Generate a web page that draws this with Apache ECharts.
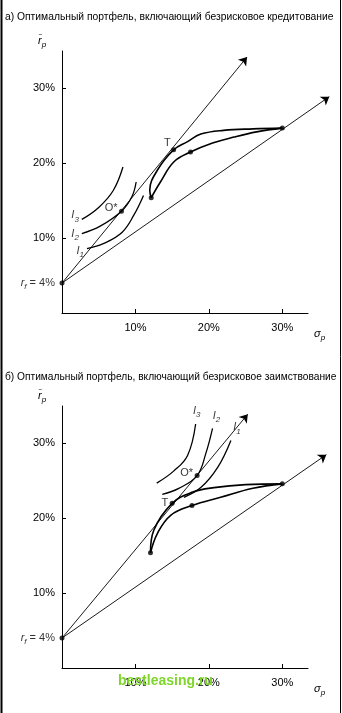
<!DOCTYPE html>
<html>
<head>
<meta charset="utf-8">
<script src="https://cdn.jsdelivr.net/npm/echarts@6/dist/echarts.min.js"></script>
<style>
html,body{margin:0;padding:0;background:#fff;}
#chart{width:342px;height:713px;}
</style>
</head>
<body>
<div id="chart"></div>
<script>
// ---------- DATA (sigma %, expected return %) ----------
const titleA = 'а) Оптимальный портфель, включающий безрисковое кредитование';
const titleB = 'б) Оптимальный портфель, включающий безрисковое заимствование';
const tickValues = [10, 20, 30];
const tickLabels = ['10%', '20%', '30%'];
const riskFree = [0, 4];

// panel a
const rayUpperA = [[0, 4], [25.2, 34.2]];
const rayLowerA = [[0, 4], [36.4, 28.9]];
const frontierUpperA = [[12.15, 15.4], [11.95, 16.4], [13.0, 19.1], [15.2, 21.8], [17.1, 22.9], [18.9, 23.9], [22.0, 24.4], [26.0, 24.6], [30, 24.7]];
const frontierLowerA = [[12.15, 15.4], [13.4, 17.5], [15.25, 20.2], [17.5, 21.5], [20.5, 22.7], [23.4, 23.5], [26.5, 24.2], [30, 24.7]];
const indiffI1A = [[3.4, 8.6], [5.7, 9.3], [8.2, 10.8], [9.8, 13.1], [11.1, 15.7]];
const indiffI2A = [[2.7, 10.6], [5.2, 11.6], [8.1, 13.6], [9.5, 15.5], [10.1, 17.5]];
const indiffI3A = [[2.7, 12.5], [5.0, 14.1], [7.0, 16.4], [8.3, 19.5]];
const pointT_A = [15.2, 21.8];
const pointO_A = [8.1, 13.6];
const pointLowA = [17.5, 21.5];
const pointStartA = [12.15, 15.4];
const pointEndA = [30, 24.7];

// panel b
const rayUpperB = [[0, 4], [25.3, 33.9]];
const rayLowerB = [[0, 4], [36.0, 28.5]];
const frontierUpperB = [[12.05, 15.4], [12.5, 18.4], [15.0, 22.0], [17.8, 23.5], [20.7, 24.1], [25.0, 24.5], [30, 24.6]];
const frontierLowerB = [[12.05, 15.4], [13.0, 18.0], [14.8, 20.4], [17.7, 21.7], [21.6, 22.8], [26.0, 24.0], [30, 24.6]];
const indiffI1B = [[16.6, 22.8], [18.9, 24.1], [21.2, 26.8], [23.0, 30.4]];
const indiffI2B = [[13.65, 23.2], [15.9, 24.0], [18.4, 25.7], [19.6, 28.7], [20.5, 32.0]];
const indiffI3B = [[12.9, 24.7], [15.2, 26.3], [17.1, 28.4], [18.2, 32.6]];
const pointT_B = [15.0, 22.0];
const pointO_B = [18.4, 25.7];
const pointLowB = [17.7, 21.7];
const pointStartB = [12.05, 15.4];
const pointEndB = [30, 24.6];

// ---------- CHART ----------
const FONT = '"Liberation Sans", Arial, sans-serif';
const chart = echarts.init(document.getElementById('chart'), null, {renderer: 'canvas'});

function tickFmt(v) {
  const i = tickValues.indexOf(v);
  return i >= 0 ? tickLabels[i] : '';
}
function xAxisDef(idx) {
  return {
    type: 'value', gridIndex: idx, min: 0, max: 33.5, interval: 10,
    axisLine: {show: true, onZero: false, lineStyle: {color: '#000', width: 1}},
    axisTick: {show: true, inside: true, length: 4, customValues: tickValues, lineStyle: {color: '#000'}},
    axisLabel: {customValues: tickValues, formatter: tickFmt, color: '#000', fontSize: 11, fontFamily: FONT, margin: 9},
    splitLine: {show: false}
  };
}
function yAxisDef(idx) {
  return {
    type: 'value', gridIndex: idx, min: 0, max: 35, interval: 10,
    axisLine: {show: true, onZero: false, lineStyle: {color: '#000', width: 1}},
    axisTick: {show: true, inside: true, length: 4, customValues: tickValues, lineStyle: {color: '#000'}},
    axisLabel: {customValues: tickValues, formatter: tickFmt, color: '#000', fontSize: 11, fontFamily: FONT, margin: 7},
    splitLine: {show: false}
  };
}

const subRich = {
  i: {fontSize: 11, fontStyle: 'italic', fontFamily: FONT, color: '#000', lineHeight: 16, verticalAlign: 'middle'},
  s: {fontSize: 8, fontStyle: 'italic', fontFamily: FONT, color: '#000', lineHeight: 8, verticalAlign: 'bottom'},
  n: {fontSize: 11, fontFamily: FONT, color: '#000', lineHeight: 16, verticalAlign: 'middle'}
};

function curve(data, xi, w) {
  return {
    type: 'line', xAxisIndex: xi, yAxisIndex: xi, data: data, smooth: 0.4,
    symbol: 'none', lineStyle: {color: '#000', width: w}, silent: true, z: 3
  };
}
function ray(coords, xi) {
  return {
    type: 'lines', coordinateSystem: 'cartesian2d', xAxisIndex: xi, yAxisIndex: xi,
    clip: false,
    symbol: ['none', 'arrow'], symbolSize: 8,
    lineStyle: {color: '#000', width: 0.9, opacity: 1},
    data: [{coords: coords}], silent: true, z: 2
  };
}
function dots(pts, xi) {
  return {
    type: 'scatter', xAxisIndex: xi, yAxisIndex: xi, symbol: 'circle', symbolSize: 5,
    itemStyle: {color: '#000'}, data: pts, silent: true, z: 5
  };
}
function lbl(pt, text, pos, offset) {
  return {
    value: pt,
    label: {show: true, formatter: text, position: pos, distance: 3, offset: offset || [0, 0],
      rich: subRich, color: '#000', fontSize: 11, fontFamily: FONT}
  };
}
function labels(items, xi) {
  return {
    type: 'scatter', xAxisIndex: xi, yAxisIndex: xi, symbol: 'circle', symbolSize: 0,
    itemStyle: {color: 'rgba(0,0,0,0)'}, data: items, silent: true, z: 6
  };
}

const option = {
  backgroundColor: '#fff',
  animation: false,
  grid: [
    {left: 62, top: 51, width: 246, height: 262},
    {left: 62, top: 406, width: 246, height: 262}
  ],
  xAxis: [xAxisDef(0), xAxisDef(1)],
  yAxis: [yAxisDef(0), yAxisDef(1)],
  series: [
    // panel a
    ray(rayUpperA, 0), ray(rayLowerA, 0),
    curve(frontierUpperA, 0, 1.6), curve(frontierLowerA, 0, 1.6),
    curve(indiffI1A, 0, 1.3), curve(indiffI2A, 0, 1.3), curve(indiffI3A, 0, 1.3),
    dots([riskFree, pointT_A, pointO_A, pointLowA, pointStartA, pointEndA], 0),
    labels([
      lbl(riskFree, '{i|r}{s|f}{n| = 4%}', 'left', [-4, 0]),
      lbl(indiffI1A[0], '{i|I}{s|1}', 'left', [0, 2]),
      lbl(indiffI2A[0], '{i|I}{s|2}', 'left', [0, 0]),
      lbl(indiffI3A[0], '{i|I}{s|3}', 'left', [0, -4]),
      lbl(pointO_A, '{n|O*}', 'left', [-1, -3]),
      lbl(pointT_A, '{n|T}', 'left', [0, -7])
    ], 0),
    // panel b
    ray(rayUpperB, 1), ray(rayLowerB, 1),
    curve(frontierUpperB, 1, 1.6), curve(frontierLowerB, 1, 1.6),
    curve(indiffI1B, 1, 1.3), curve(indiffI2B, 1, 1.3), curve(indiffI3B, 1, 1.3),
    dots([riskFree, pointT_B, pointO_B, pointLowB, pointStartB, pointEndB], 1),
    labels([
      lbl(riskFree, '{i|r}{s|f}{n| = 4%}', 'left', [-4, 0]),
      lbl(indiffI1B[indiffI1B.length - 1], '{i|I}{s|1}', 'top', [6, -2]),
      lbl(indiffI2B[indiffI2B.length - 1], '{i|I}{s|2}', 'top', [4, -2]),
      lbl(indiffI3B[indiffI3B.length - 1], '{i|I}{s|3}', 'top', [1, -2]),
      lbl(pointO_B, '{n|O*}', 'left', [-1, -3]),
      lbl(pointT_B, '{n|T}', 'left', [-1, 0])
    ], 1)
  ],
  graphic: [
    {type: 'text', left: 5, top: 12, style: {text: titleA, font: '10.3px ' + FONT, fill: '#000'}},
    {type: 'text', left: 5, top: 372, style: {text: titleB, font: '10.2px ' + FONT, fill: '#000'}},
    // axis names
    {type: 'text', left: 38, top: 35, style: {text: '{i|r̄}{s|p}', rich: subRich}},
    {type: 'text', left: 314, top: 328, style: {text: '{i|σ}{s|p}', rich: subRich}},
    {type: 'text', left: 38, top: 390, style: {text: '{i|r̄}{s|p}', rich: subRich}},
    {type: 'text', left: 314, top: 683, style: {text: '{i|σ}{s|p}', rich: subRich}},
    // scan frame
    {type: 'line', shape: {x1: 1.5, y1: 0, x2: 1.5, y2: 713}, style: {stroke: '#000', lineWidth: 2}},
    {type: 'line', shape: {x1: 340.5, y1: 0, x2: 340.5, y2: 713}, style: {stroke: '#000', lineWidth: 1}},
    // watermark
    {type: 'text', left: 118, top: 674, z: 100,
      style: {text: 'bestleasing.ru', font: 'bold 14px ' + FONT, fill: '#7fd62a'}}
  ]
};
chart.setOption(option);
</script>
</body>
</html>
